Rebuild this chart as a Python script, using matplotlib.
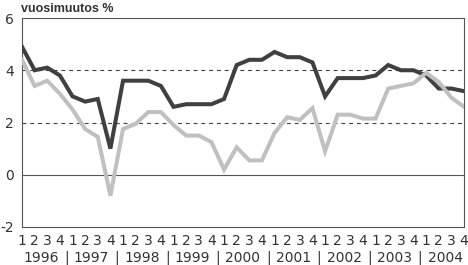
import matplotlib
matplotlib.use("Agg")
import matplotlib.pyplot as plt
import matplotlib.transforms as mtransforms

years = ["1996", "1997", "1998", "1999", "2000", "2001", "2002", "2003", "2004"]
quarters = ["1", "2", "3", "4"]

dark_series = [4.9, 4.0, 4.1, 3.8,
               3.0, 2.8, 2.9, 1.0,
               3.6, 3.6, 3.6, 3.4,
               2.6, 2.7, 2.7, 2.7,
               2.9, 4.2, 4.4, 4.4,
               4.7, 4.5, 4.5, 4.3,
               3.0, 3.7, 3.7, 3.7,
               3.8, 4.2, 4.0, 4.0,
               3.8, 3.3, 3.3, 3.2]

light_series = [4.4, 3.4, 3.6, 3.1,
                2.5, 1.75, 1.45, -0.8,
                1.75, 1.95, 2.4, 2.4,
                1.9, 1.5, 1.5, 1.25,
                0.2, 1.05, 0.55, 0.55,
                1.6, 2.2, 2.1, 2.55,
                0.9, 2.3, 2.3, 2.15,
                2.15, 3.3, 3.4, 3.5,
                3.9, 3.55, 2.95, 2.6]

y_ticks = [-2, 0, 2, 4, 6]
title_text = "vuosimuutos %"

W, H = 468, 265
fig = plt.figure(figsize=(W / 100, H / 100), dpi=100)
ax = fig.add_axes([22 / W, (H - 227) / H, 442 / W, 209 / H])

x = list(range(len(dark_series)))
ax.plot(x, dark_series, color="#404040", lw=2.9, zorder=3, solid_joinstyle="miter")
ax.plot(x, light_series, color="#c0c0c0", lw=2.9, zorder=4, solid_joinstyle="miter")

ax.set_xlim(0, len(x) - 1)
ax.set_ylim(-2, 6)

for v in [2, 4]:
    ax.axhline(v, color="#404040", lw=0.8, ls=(0, (3.5, 3.5)), zorder=1)
ax.axhline(0, color="#555555", lw=0.8, zorder=2)

for s in ax.spines.values():
    s.set_color("#555555")
    s.set_linewidth(0.8)

ax.set_xticks([])
ax.set_yticks(y_ticks)
ax.set_yticklabels([str(t) for t in y_ticks], fontsize=10, family="DejaVu Sans", color="#333333")
ax.tick_params(axis="y", length=0, pad=6)

trans = mtransforms.blended_transform_factory(ax.transData, fig.transFigure)
n_q = len(quarters)
for yi, yr in enumerate(years):
    for qi, q in enumerate(quarters):
        idx = yi * n_q + qi
        ax.text(idx, (H - 241) / H, q, transform=trans, ha="center", va="center",
                fontsize=10, family="DejaVu Sans", color="#333333", clip_on=False)
    ax.text(yi * n_q + 1.5, (H - 257.5) / H, yr, transform=trans, ha="center", va="center",
            fontsize=10, family="DejaVu Sans", color="#333333", clip_on=False)
    if yi < len(years) - 1:
        ax.text(yi * n_q + 3.5, (H - 257.5) / H, "|", transform=trans, ha="center", va="center",
                fontsize=10, family="DejaVu Sans", color="#333333", clip_on=False)

fig.text(21 / W, (H - 9) / H, title_text, ha="left", va="center", fontsize=9,
         fontweight="bold", family="Liberation Sans", color="#333333")

fig.savefig("out.png", dpi=100)
